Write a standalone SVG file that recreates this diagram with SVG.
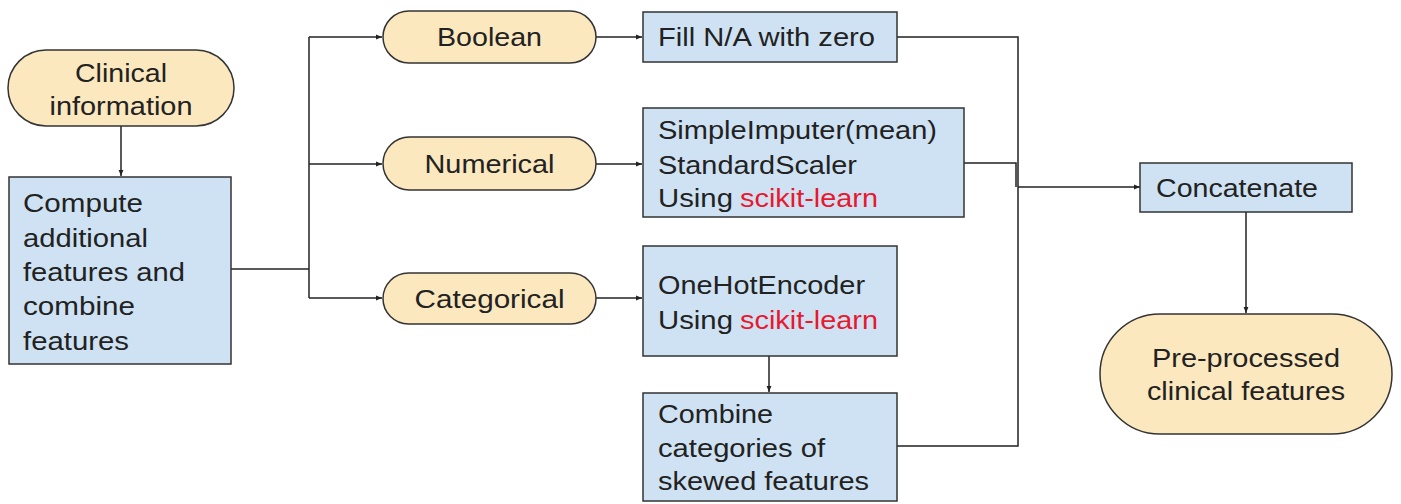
<svg xmlns="http://www.w3.org/2000/svg" width="1401" height="504" viewBox="0 0 1401 504">
  <style>
    .pill { fill: #fce8bf; stroke: #333; stroke-width: 1.5; }
    .box { fill: #cfe2f3; stroke: #333; stroke-width: 1.5; }
    .lbl { font-family: "Liberation Sans", Arial, sans-serif; font-size: 26px; fill: #222; }
    .red { fill: #e8182f; }
    .wire { fill: none; stroke: #222; stroke-width: 1.5; }
  </style>
  <defs>
    <marker id="arr" viewBox="0 0 10 10" refX="10" refY="5" markerWidth="6" markerHeight="6" markerUnits="userSpaceOnUse" orient="auto">
      <path d="M0,1 L10,5 L0,9 Z" fill="#222"/>
    </marker>
  </defs>
  <rect width="1401" height="504" fill="#ffffff"/>

  <g id="connectors">
    <line class="wire" x1="121" y1="126" x2="121" y2="176" marker-end="url(#arr)"/>
    <path class="wire" d="M231,269 H309"/>
    <path class="wire" d="M309,37 V298"/>
    <line class="wire" x1="309" y1="37" x2="382" y2="37" marker-end="url(#arr)"/>
    <line class="wire" x1="309" y1="164" x2="382" y2="164" marker-end="url(#arr)"/>
    <line class="wire" x1="309" y1="298" x2="382" y2="298" marker-end="url(#arr)"/>
    <line class="wire" x1="596" y1="37" x2="642" y2="37" marker-end="url(#arr)"/>
    <line class="wire" x1="596" y1="164" x2="642" y2="164" marker-end="url(#arr)"/>
    <line class="wire" x1="596" y1="298" x2="642" y2="298" marker-end="url(#arr)"/>
    <line class="wire" x1="769" y1="356" x2="769" y2="392" marker-end="url(#arr)"/>
    <path class="wire" d="M897,37 H1018 V446 H897"/>
    <path class="wire" d="M964,163 H1016 V187"/>
    <line class="wire" x1="1018" y1="187" x2="1140" y2="187" marker-end="url(#arr)"/>
    <line class="wire" x1="1246" y1="212" x2="1246" y2="313" marker-end="url(#arr)"/>
  </g>

  <g id="clinical-information">
    <rect class="pill" x="8" y="50" width="226" height="76" rx="38"/>
    <text class="lbl" x="121" y="82" text-anchor="middle" textLength="92" lengthAdjust="spacingAndGlyphs">Clinical</text>
    <text class="lbl" x="121" y="115" text-anchor="middle" textLength="143" lengthAdjust="spacingAndGlyphs">information</text>
  </g>

  <g id="compute-features">
    <rect class="box" x="9" y="177" width="222" height="187"/>
    <text class="lbl" x="23" y="212" textLength="120" lengthAdjust="spacingAndGlyphs">Compute</text>
    <text class="lbl" x="23" y="247" textLength="125" lengthAdjust="spacingAndGlyphs">additional</text>
    <text class="lbl" x="23" y="281" textLength="162" lengthAdjust="spacingAndGlyphs">features and</text>
    <text class="lbl" x="23" y="315" textLength="112" lengthAdjust="spacingAndGlyphs">combine</text>
    <text class="lbl" x="23" y="350" textLength="106" lengthAdjust="spacingAndGlyphs">features</text>
  </g>

  <g id="boolean">
    <rect class="pill" x="383" y="11" width="213" height="52" rx="26"/>
    <text class="lbl" x="489.5" y="46" text-anchor="middle" textLength="105" lengthAdjust="spacingAndGlyphs">Boolean</text>
  </g>

  <g id="numerical">
    <rect class="pill" x="383" y="137" width="213" height="53" rx="26.5"/>
    <text class="lbl" x="489.5" y="173" text-anchor="middle" textLength="130" lengthAdjust="spacingAndGlyphs">Numerical</text>
  </g>

  <g id="categorical">
    <rect class="pill" x="383" y="273" width="213" height="51" rx="25.5"/>
    <text class="lbl" x="489.5" y="308" text-anchor="middle" textLength="150" lengthAdjust="spacingAndGlyphs">Categorical</text>
  </g>

  <g id="fill-na">
    <rect class="box" x="643" y="12" width="254" height="50"/>
    <text class="lbl" x="658" y="46" textLength="217" lengthAdjust="spacingAndGlyphs">Fill N/A with zero</text>
  </g>

  <g id="numeric-transform">
    <rect class="box" x="643" y="108" width="321" height="109"/>
    <text class="lbl" x="658" y="139" textLength="279" lengthAdjust="spacingAndGlyphs">SimpleImputer(mean)</text>
    <text class="lbl" x="658" y="174" textLength="199" lengthAdjust="spacingAndGlyphs">StandardScaler</text>
    <text class="lbl" x="658" y="207" textLength="75" lengthAdjust="spacingAndGlyphs">Using</text>
    <text class="lbl red" x="740" y="207" textLength="138" lengthAdjust="spacingAndGlyphs">scikit-learn</text>
  </g>

  <g id="one-hot">
    <rect class="box" x="643" y="246" width="254" height="110"/>
    <text class="lbl" x="658" y="294" textLength="207" lengthAdjust="spacingAndGlyphs">OneHotEncoder</text>
    <text class="lbl" x="658" y="329" textLength="75" lengthAdjust="spacingAndGlyphs">Using</text>
    <text class="lbl red" x="740" y="329" textLength="138" lengthAdjust="spacingAndGlyphs">scikit-learn</text>
  </g>

  <g id="combine-categories">
    <rect class="box" x="643" y="393" width="254" height="108"/>
    <text class="lbl" x="658" y="423" textLength="115" lengthAdjust="spacingAndGlyphs">Combine</text>
    <text class="lbl" x="658" y="457" textLength="167" lengthAdjust="spacingAndGlyphs">categories of</text>
    <text class="lbl" x="658" y="490" textLength="211" lengthAdjust="spacingAndGlyphs">skewed features</text>
  </g>

  <g id="concatenate">
    <rect class="box" x="1140" y="163" width="212" height="49"/>
    <text class="lbl" x="1156" y="197" textLength="162" lengthAdjust="spacingAndGlyphs">Concatenate</text>
  </g>

  <g id="preprocessed">
    <rect class="pill" x="1100" y="314" width="292" height="120" rx="60"/>
    <text class="lbl" x="1246" y="367" text-anchor="middle" textLength="188" lengthAdjust="spacingAndGlyphs">Pre-processed</text>
    <text class="lbl" x="1246" y="400" text-anchor="middle" textLength="198" lengthAdjust="spacingAndGlyphs">clinical features</text>
  </g>
</svg>
